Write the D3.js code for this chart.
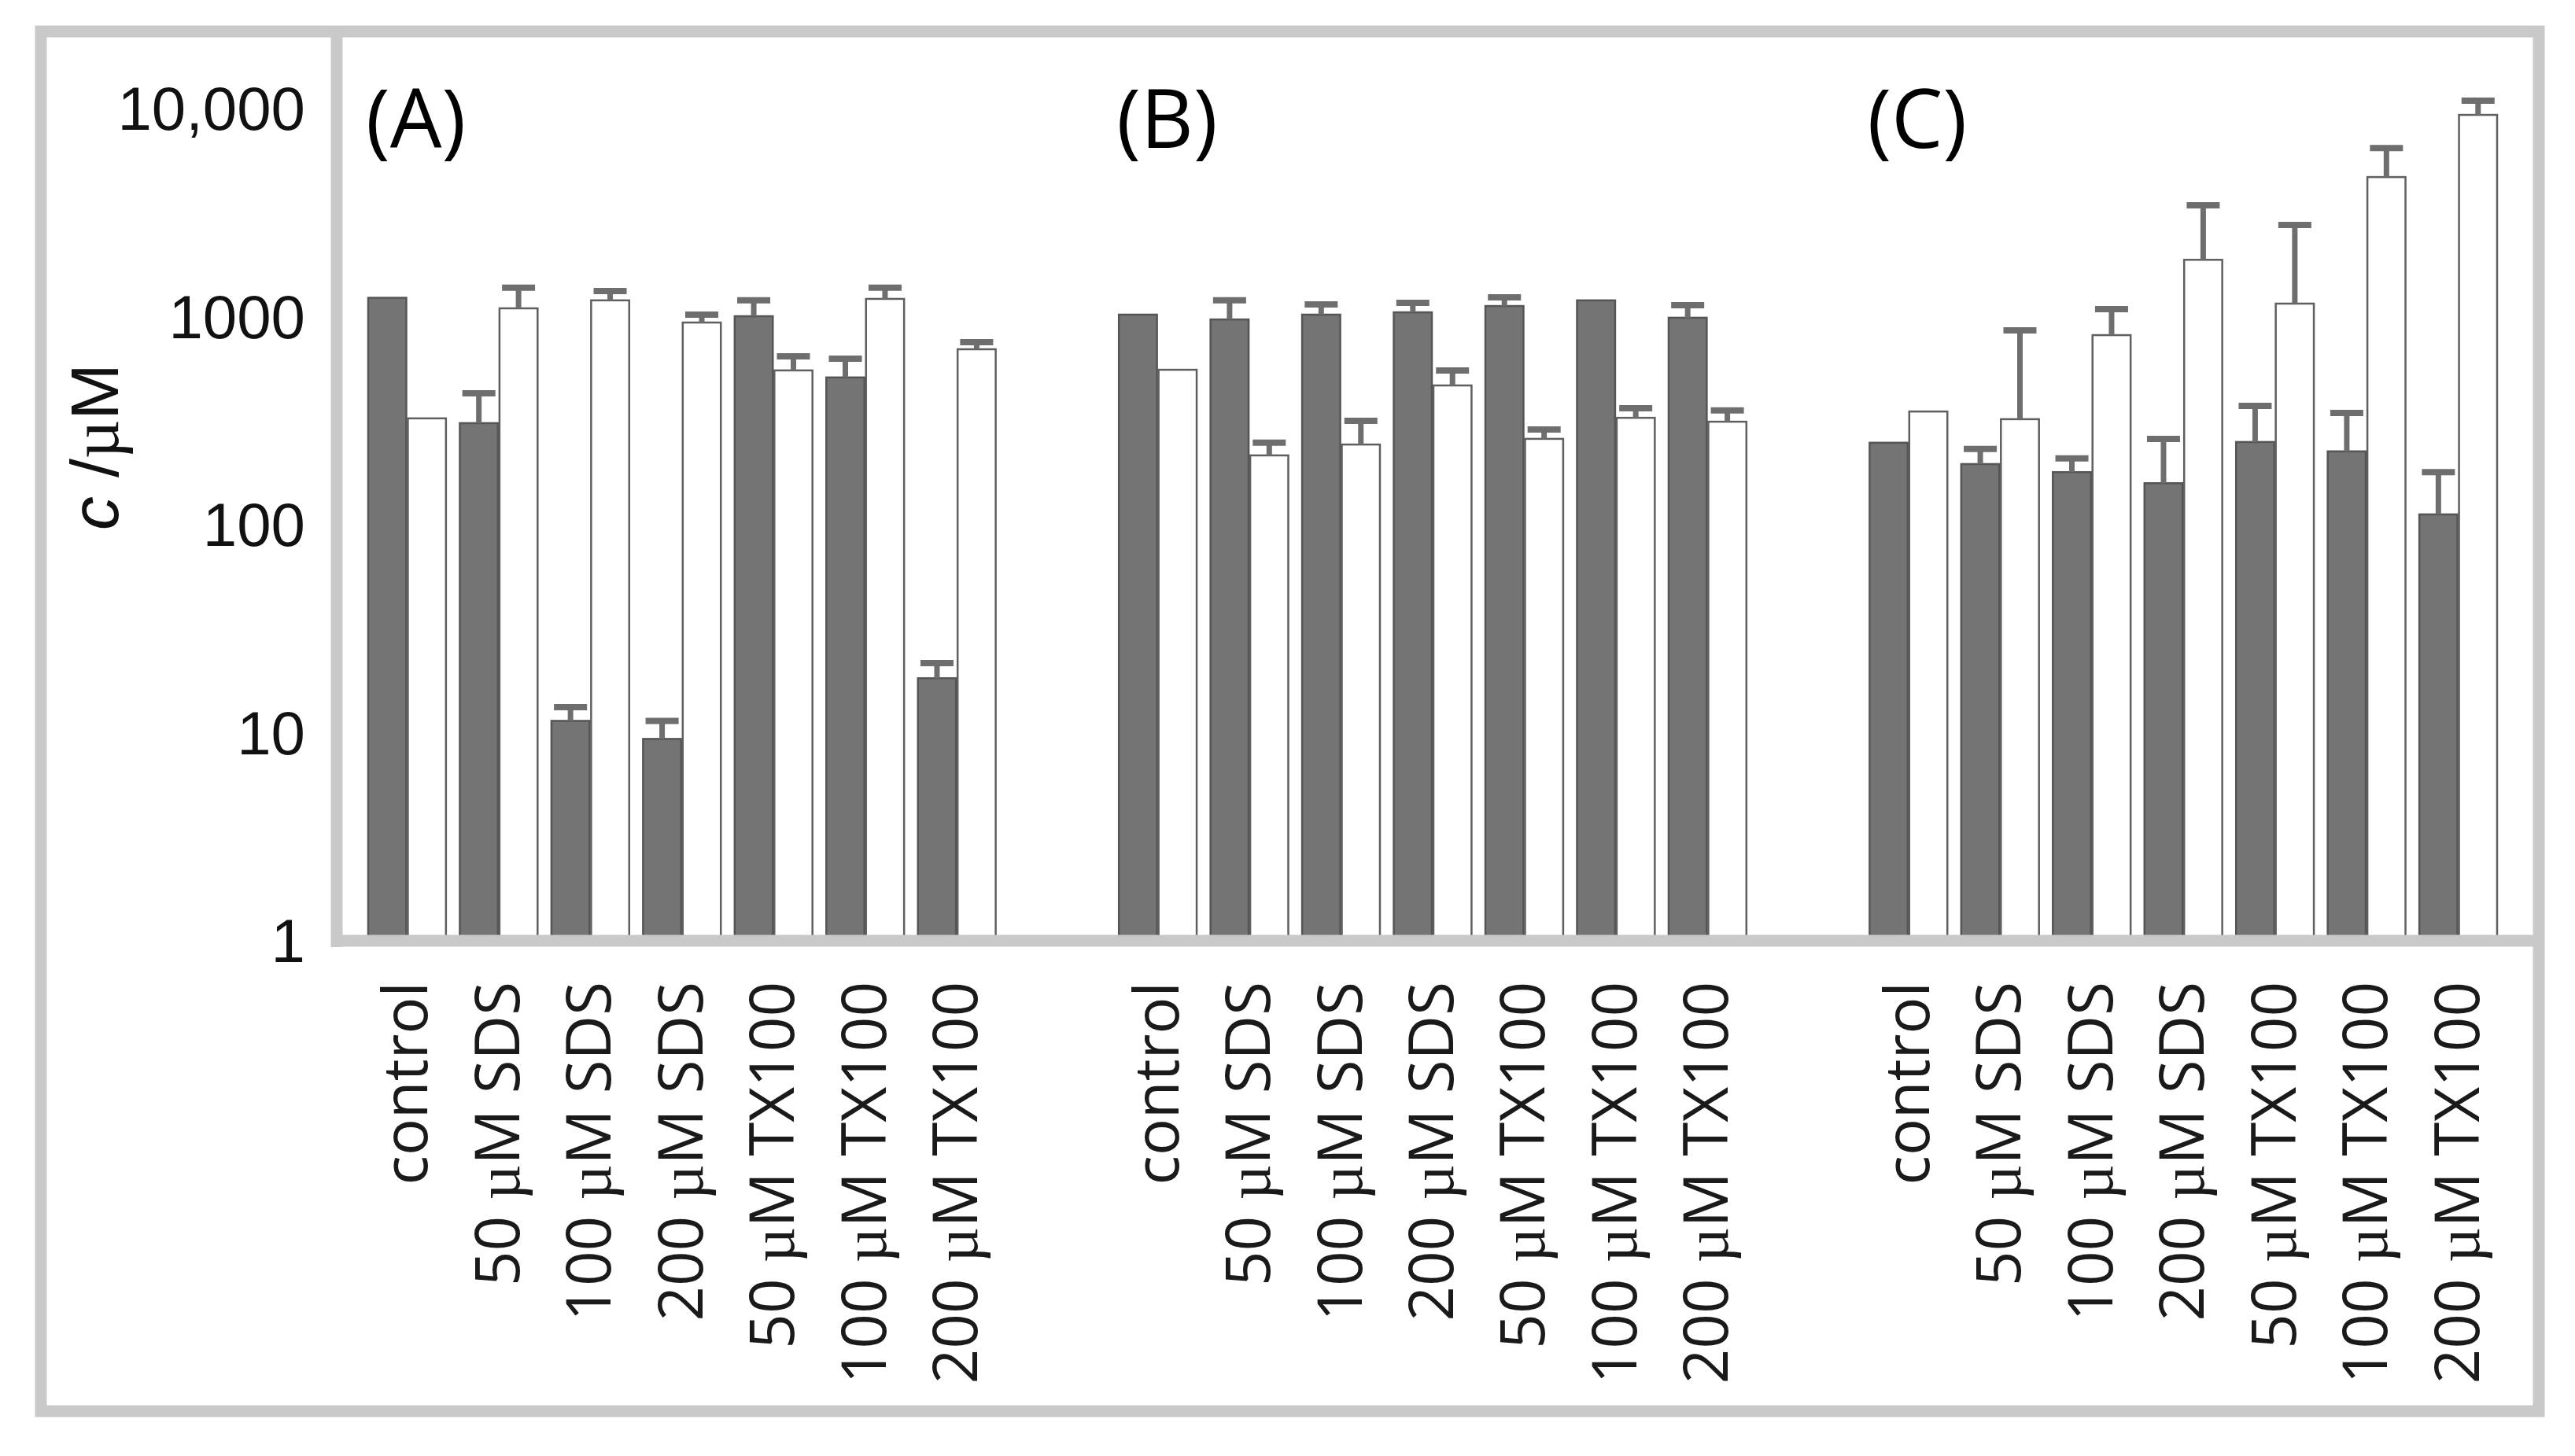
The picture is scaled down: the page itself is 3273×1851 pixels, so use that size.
<!DOCTYPE html>
<html>
<head>
<meta charset="utf-8">
<script src="https://cdn.jsdelivr.net/npm/d3@7"></script>
<style>
  html, body { margin: 0; padding: 0; background: #ffffff; }
  svg { display: block; }
</style>
</head>
<body>
<script>
// ---------------- data ----------------
const panels = ["(A)", "(B)", "(C)"];
const categories = ["control", "50 µM SDS", "100 µM SDS", "200 µM SDS", "50 µM TX100", "100 µM TX100", "200 µM TX100"];
const yTicks = [1, 10, 100, 1000, 10000];
const yTickLabels = ["1", "10", "100", "1000", "10,000"];

// dark (filled) series and upper error amounts
const darkA = [1253, 313, 11.6, 9.5, 1022, 519, 18.6];
const darkAErr = [0, 122, 1.9, 2.1, 196, 119, 3.4];
const darkB = [1040, 986, 1040, 1067, 1144, 1218, 1005];
const darkBErr = [0, 232, 124, 119, 115, 0, 149];
const darkC = [252, 199, 182, 161, 254, 229, 114];
const darkCErr = [0, 36, 30, 102, 125, 121, 68];

// white (open) series and upper error amounts
const whiteA = [330, 1115, 1218, 953, 561, 1238, 709];
const whiteAErr = [0, 285, 132, 87, 95, 162, 58];
const whiteB = [565, 219, 247, 475, 263, 332, 318];
const whiteBErr = [0, 33, 74, 86, 29, 37, 42];
const whiteC = [356, 327, 829, 1908, 1175, 4767, 9486];
const whiteCErr = [0, 547, 276, 1577, 1631, 1810, 1614];

const yTitle = ["c", " /µM"];

// ---------------- layout ----------------
const W = 3273, H = 1851;
const svg = d3.select("body").append("svg").attr("width", W).attr("height", H)
  .style("font-family", "'Liberation Sans', Arial, sans-serif");

const series = {
  "(A)": { dark: darkA, darkErr: darkAErr, white: whiteA, whiteErr: whiteAErr },
  "(B)": { dark: darkB, darkErr: darkBErr, white: whiteB, whiteErr: whiteBErr },
  "(C)": { dark: darkC, darkErr: darkCErr, white: whiteC, whiteErr: whiteCErr }
};

const xPanel = d3.scaleBand().domain(panels).range([467, 3175]).paddingInner(0.162).paddingOuter(0);
const xCat = d3.scaleBand().domain(categories).range([0, xPanel.bandwidth()]).paddingInner(0.134).paddingOuter(0);
const xSeries = d3.scaleBand().domain(["dark", "white"]).range([0, xCat.bandwidth()]).padding(0);
const y = d3.scaleLog().domain([1, 10000]).range([1198, 140]);

const frameColor = "#c9c9c9";
const darkFill = "#747474";
const errColor = "#6e6e6e";

// outer frame background
svg.append("rect").attr("x", 52).attr("y", 40).attr("width", 3175).attr("height", 1754)
  .attr("fill", "#ffffff").attr("stroke", "none");

// ---------------- bars ----------------
panels.forEach(p => {
  const g = svg.append("g").attr("transform", `translate(${xPanel(p)},0)`);
  const s = series[p];
  const rows = categories.map((c, i) => ({
    c, dark: s.dark[i], darkErr: s.darkErr[i], white: s.white[i], whiteErr: s.whiteErr[i]
  }));
  const grp = g.selectAll("g.cat").data(rows).join("g")
    .attr("class", "cat")
    .attr("transform", d => `translate(${xCat(d.c)},0)`);

  // dark bars
  grp.append("rect")
    .attr("x", xSeries("dark") + 1)
    .attr("y", d => y(d.dark))
    .attr("width", xSeries.bandwidth() - 2)
    .attr("height", d => y(1) - y(d.dark))
    .attr("fill", darkFill).attr("stroke", "#555555").attr("stroke-width", 2.5);

  // white bars
  grp.append("rect")
    .attr("x", xSeries("white") + 1)
    .attr("y", d => y(d.white))
    .attr("width", xSeries.bandwidth() - 2)
    .attr("height", d => y(1) - y(d.white))
    .attr("fill", "#ffffff").attr("stroke", "#5f5f5f").attr("stroke-width", 2.5);

  // error bars (upper only)
  const capW = 42;
  ["dark", "white"].forEach(k => {
    const eg = grp.filter(d => d[k + "Err"] > 0);
    const cx = xSeries(k) + xSeries.bandwidth() / 2;
    eg.append("line")
      .attr("x1", cx).attr("x2", cx)
      .attr("y1", d => y(d[k]))
      .attr("y2", d => y(d[k] + d[k + "Err"]))
      .attr("stroke", errColor).attr("stroke-width", 7);
    eg.append("line")
      .attr("x1", cx - capW / 2).attr("x2", cx + capW / 2)
      .attr("y1", d => y(d[k] + d[k + "Err"]))
      .attr("y2", d => y(d[k] + d[k + "Err"]))
      .attr("stroke", errColor).attr("stroke-width", 8);
  });

  // panel label
  svg.append("text")
    .attr("x", xPanel(p) - 2).attr("y", 188)
    .style("font-family", "'Open Sans', sans-serif")
    .style("font-size", "104px").attr("fill", "#000")
    .text(p);

  // category labels
  categories.forEach(c => {
    const cx = xPanel(p) + xCat(c) + xCat.bandwidth() / 2 + 26;
    const t = svg.append("text")
      .attr("transform", `translate(${cx},1248) rotate(-90)`)
      .attr("text-anchor", "end")
      .style("font-family", "'Open Sans', sans-serif")
      .style("font-size", "78px").attr("fill", "#1a1a1a");
    const parts = c.split("µ");
    parts.forEach((part, i) => {
      if (i > 0) t.append("tspan").style("font-family", "'Liberation Serif', serif").text("µ");
      t.append("tspan").text(part);
    });
  });
});

// ---------------- frame ----------------
svg.append("rect").attr("x", 52).attr("y", 40).attr("width", 3175).attr("height", 1754)
  .attr("fill", "none").attr("stroke", frameColor).attr("stroke-width", 15);
svg.append("line").attr("x1", 428).attr("x2", 428).attr("y1", 40).attr("y2", 1204)
  .attr("stroke", frameColor).attr("stroke-width", 15);
svg.append("line").attr("x1", 421).attr("x2", 3227).attr("y1", 1196).attr("y2", 1196)
  .attr("stroke", frameColor).attr("stroke-width", 15);

// ---------------- y axis ----------------
const yAxis = d3.axisLeft(y)
  .tickValues(yTicks)
  .tickFormat((d, i) => yTickLabels[i])
  .tickSize(0).tickPadding(0);
const ya = svg.append("g").attr("transform", "translate(388,0)").call(yAxis);
ya.select(".domain").remove();
ya.selectAll("text")
  .style("font-family", "'Liberation Sans', Arial, sans-serif")
  .style("font-size", "78px").attr("fill", "#111");

// y title
const yt = svg.append("text")
  .attr("transform", "translate(150,568) rotate(-90)")
  .attr("text-anchor", "middle")
  .style("font-family", "'Liberation Sans', Arial, sans-serif")
  .style("font-size", "86px").attr("fill", "#111");
yt.append("tspan").style("font-style", "italic").text(yTitle[0]);
yt.append("tspan").text(" /");
yt.append("tspan").style("font-family", "'Liberation Serif', serif").text("µ");
yt.append("tspan").text("M");
</script>
</body>
</html>
